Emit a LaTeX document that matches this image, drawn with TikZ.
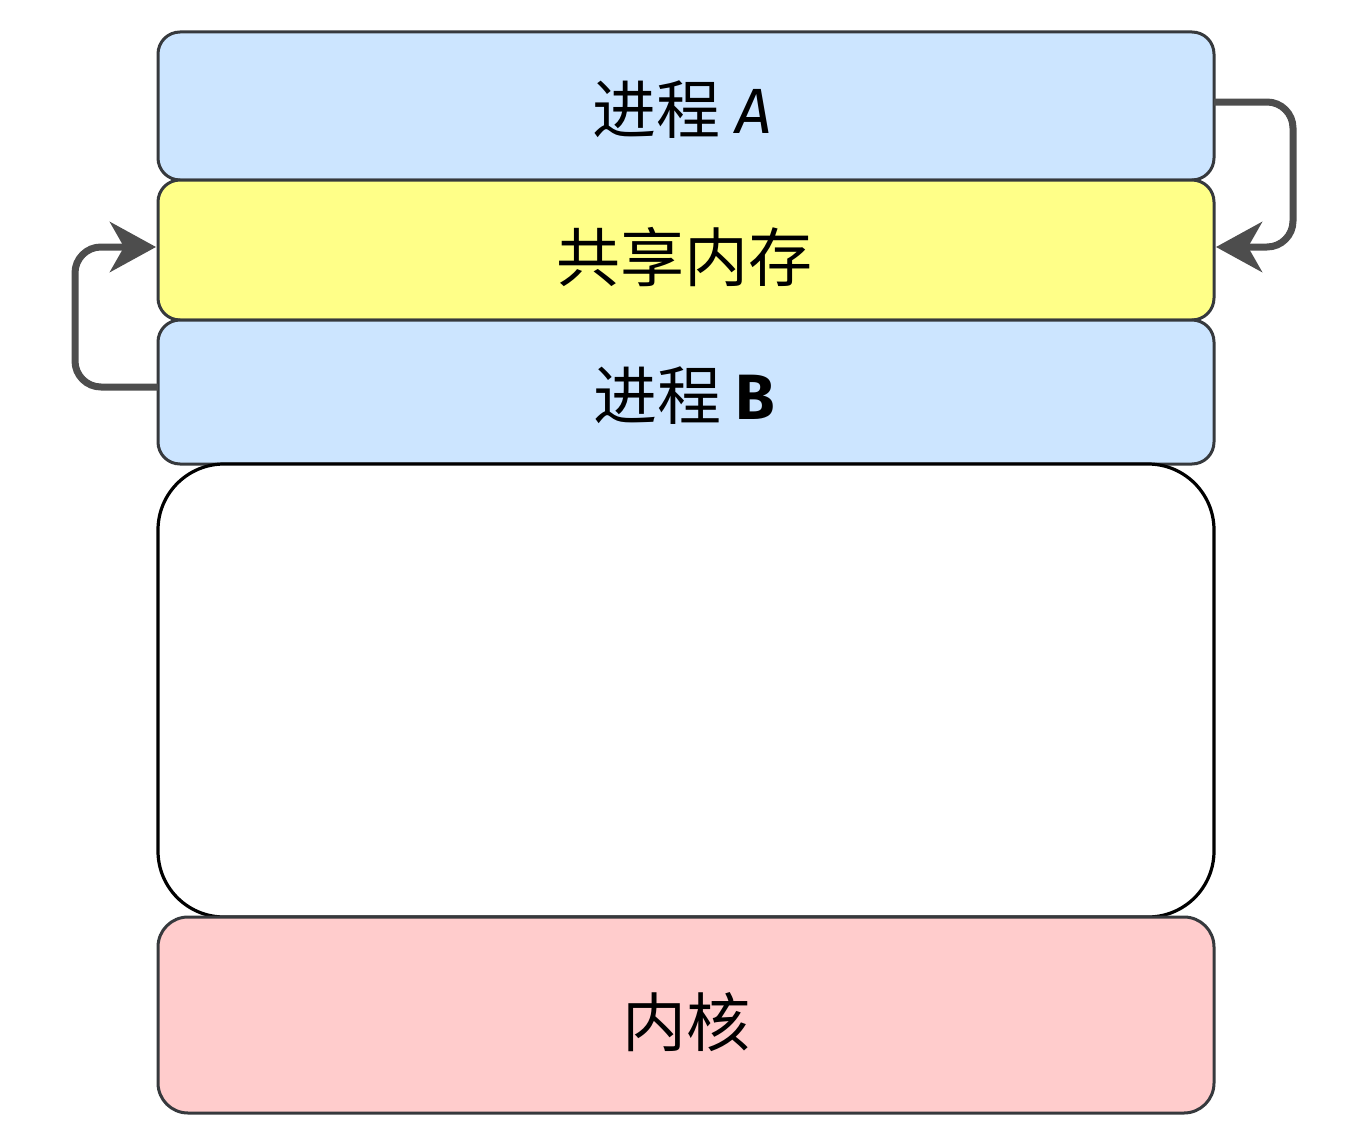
\documentclass[tikz,border=0pt]{standalone}
\usepackage{fontspec}
\setmainfont{Noto Sans CJK SC}
\newfontfamily\latinfont{Fira Sans}
\usetikzlibrary{arrows.meta}
\definecolor{pblue}{HTML}{CCE5FF}
\definecolor{pyellow}{HTML}{FFFF88}
\definecolor{ppink}{HTML}{FFCCCC}
\definecolor{pstroke}{HTML}{36393D}
\definecolor{parrow}{HTML}{4D4D4D}
\begin{document}
\begin{tikzpicture}[x=1pt,y=-1pt,
  layer/.style={draw=pstroke,line width=3pt,rounded corners=22pt},
  lbl/.style={font=\fontsize{64}{64}\selectfont,inner sep=0pt,anchor=center},
  conn/.style={draw=parrow,line width=7pt,rounded corners=26pt,-{Stealth[length=46pt,width=50pt,inset=14pt]}}]
\useasboundingbox (0,0) rectangle (1368,1148);
\fill[white] (0,0) rectangle (1368,1148);
\draw[layer,fill=pblue] (158,32) rectangle (1214,180);
\draw[layer,fill=pyellow] (158,180) rectangle (1214,320);
\draw[layer,fill=pblue] (158,320) rectangle (1214,464);
\draw[draw=black,line width=3.2pt,rounded corners=66pt,fill=white] (158,464) rectangle (1214,917);
\draw[layer,fill=ppink,rounded corners=30pt] (158,917) rectangle (1214,1113);
\node[lbl] (pa) at (682,110) {进程 {\latinfont\itshape A}};
\node[lbl] (shm) at (684,257) {共享内存};
\node[lbl] (pb) at (684,396) {进程 {\latinfont\fontseries{sb}\selectfont B}};
\node[lbl] (kern) at (686,1022) {内核};
\coordinate (aout) at (1214,102);
\coordinate (shmr) at (1216,247);
\coordinate (bout) at (158,387);
\coordinate (shml) at (156,247);
\draw[conn] (aout) -- (1293,102) -- (1293,247) -- (shmr);
\draw[conn] (bout) -- (75,387) -- (75,247) -- (shml);
\end{tikzpicture}
\end{document}
